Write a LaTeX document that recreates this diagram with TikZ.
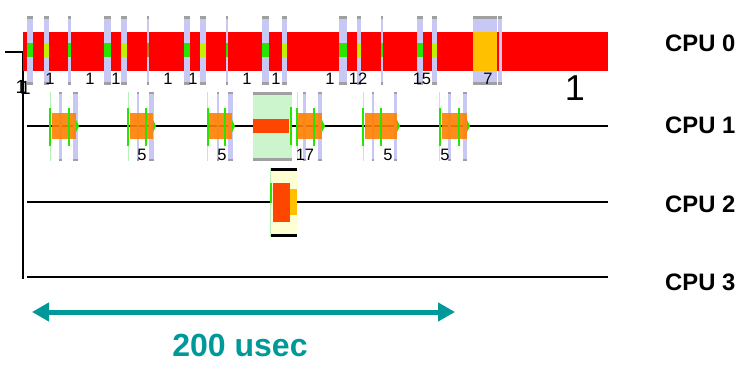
\documentclass[tikz,border=0pt]{standalone}
\usepackage{fontspec}
\setmainfont{Liberation Sans}
\usetikzlibrary{arrows.meta}
\definecolor{lav}{RGB}{200,200,245}
\definecolor{capgrey}{RGB}{160,160,160}
\definecolor{grn}{RGB}{40,228,0}
\definecolor{ygrn}{RGB}{195,240,0}
\definecolor{thingrn}{RGB}{185,240,185}
\definecolor{brn}{RGB}{190,120,40}
\definecolor{org}{RGB}{255,128,0}
\definecolor{gold}{RGB}{255,192,0}
\definecolor{redorg}{RGB}{255,70,0}
\definecolor{lgbox}{RGB}{205,245,205}
\definecolor{lybox}{RGB}{255,255,212}
\definecolor{teal}{RGB}{0,153,153}
\tikzset{
  cpulabel/.style={anchor=west,inner sep=0pt,font=\fontsize{23.8}{26}\selectfont\bfseries},
  num/.style={inner sep=0pt,font=\fontsize{16.5}{18}\selectfont},
  bignum/.style={inner sep=0pt,font=\fontsize{36}{40}\selectfont},
  cpuline/.style={line width=2.2pt,black},
  axisline/.style={line width=2.2pt,black},
  spanarrow/.style={line width=5pt,teal,{Triangle[length=17pt,width=18pt]}-{Triangle[length=17pt,width=18pt]}},
  spanlabel/.style={inner sep=0pt,text=teal,font=\fontsize{32}{35}\selectfont\bfseries}
}
% CPU 0 strip: x1 x2 centre colour
\newcommand\czstrip[3]{%
  \fill[lav] (#1,16) rectangle (#2,85);
  \fill[capgrey] (#1,16) rectangle (#2,19);
  \fill[capgrey] (#1,82) rectangle (#2,85);
  \fill[#3] (#1,43) rectangle (#2,57);}
% CPU 1 strip: x1 x2
\newcommand\costrip[2]{%
  \fill[lav] (#1,92) rectangle (#2,161);
  \fill[capgrey] (#1,92) rectangle (#2,94.5);
  \fill[capgrey] (#1,158.5) rectangle (#2,161);}
% CPU 1 block: thin, ox1, ox2, l1a, l1b, gx, l2a, l2b
\newcommand\coblock[8]{%
  \draw[thingrn,line width=0.8pt] (#1,92) -- (#1,161);
  \costrip{#4}{#5}
  \costrip{#7}{#8}
  \fill[org,fill opacity=0.9] (#2,113) rectangle (#3,139);
  \fill[grn] (#1-0.8,108) rectangle (#1+1.4,146);
  \fill[grn] (#6,108) rectangle (#6+2.4,146);
  \fill[grn] (#3,120) -- (#3+3,126) -- (#3,132) -- cycle;}
\begin{document}
\begin{tikzpicture}[x=1pt,y=-1pt]
\useasboundingbox (0,0) rectangle (756,369);
\fill[white] (0,0) rectangle (756,369);

% axis
\coordinate (tickL) at (5,52);
\coordinate (tickR) at (23,52);
\coordinate (axB) at (23,279);
\draw[axisline] (tickL) -- (tickR) -- (axB);

% CPU lines
\coordinate (c1a) at (27,126); \coordinate (c1b) at (608,126);
\coordinate (c2a) at (27,202); \coordinate (c2b) at (608,202);
\coordinate (c3a) at (27,277); \coordinate (c3b) at (608,277);
\draw[cpuline] (c1a) -- (c1b);
\draw[cpuline] (c2a) -- (c2b);
\draw[cpuline] (c3a) -- (c3b);

% CPU 0 bar
\fill[red] (22.5,32) rectangle (608,71);
\czstrip{27}{33}{grn}
\czstrip{44}{49}{ygrn}
\czstrip{68}{71}{grn}
\czstrip{104}{111}{grn}
\czstrip{121}{127}{ygrn}
\czstrip{147}{149}{brn}
\czstrip{184}{190}{grn}
\czstrip{200}{206}{ygrn}
\czstrip{226}{228}{grn}
\czstrip{262}{269}{grn}
\czstrip{282}{287}{ygrn}
\czstrip{339}{347}{grn}
\czstrip{357}{361}{ygrn}
\czstrip{381}{383}{grn}
\czstrip{417}{423}{grn}
\czstrip{432}{437}{ygrn}
\czstrip{473}{497}{gold}
\fill[gold] (473,32) rectangle (497,71);
\czstrip{498}{502}{lav}
\fill[red] (497,32) rectangle (499.2,71);

% CPU 0 labels
\node[num] (n1) at (50,79) {1};
\node[num] (n2) at (90,79) {1};
\node[num] (n3) at (116,79) {1};
\node[num] (n4) at (168,79) {1};
\node[num] (n5) at (193,79) {1};
\node[num] (n6) at (247,79) {1};
\node[num] (n7) at (276,79) {1};
\node[num] (n8) at (330,79) {1};
\node[num] (n9) at (358,79) {12};
\node[num] (n10) at (422,79) {15};
\node[num] (n11) at (488,79) {7};
\node[bignum] (nbig) at (575,88.5) {1};
\node[num,font=\fontsize{19}{21}\selectfont] (nl1) at (21,87) {1};
\node[num,font=\fontsize{19}{21}\selectfont] (nl2) at (25.5,88) {1};

% CPU 1 blocks
\coblock{50}{52}{76}{59}{62}{67.5}{73}{78}
\coblock{128}{130}{153}{137}{139}{145}{149}{154}
\coblock{207.5}{208}{232}{217}{219}{224}{228}{233}
% light green box
\fill[lgbox] (253,92) rectangle (292,161);
\fill[capgrey] (253,92) rectangle (292,95);
\fill[capgrey] (253,158) rectangle (292,161);
\fill[redorg] (253,119) rectangle (289,133);
\fill[grn] (289.8,107) rectangle (292.2,145);
\coblock{297}{297.5}{322}{303}{306}{313}{318}{322}
\coblock{363}{365}{397}{372}{374}{380}{394}{397}
\coblock{439.5}{442}{467}{448}{451}{458}{463}{467}
\node[num] (m1) at (142,155) {5};
\node[num] (m2) at (222,155) {5};
\node[num] (m3) at (305,155) {17};
\node[num] (m4) at (388,155) {5};
\node[num] (m5) at (445,155) {5};

% CPU 2 block
\fill[lybox] (270,168) rectangle (297,237);
\draw[thingrn,line width=0.8pt] (270.5,168) -- (270.5,237);
\fill[black] (271,168) rectangle (297,171);
\fill[black] (271,234) rectangle (297,237);
\fill[grn] (269.5,183) rectangle (272.2,203);
\fill[redorg] (273,183) rectangle (290,222);
\fill[gold] (290,189) rectangle (297,215);

% CPU labels
\node[cpulabel] (cpu0) at (665,43) {CPU 0};
\node[cpulabel] (cpu1) at (665,125) {CPU 1};
\node[cpulabel] (cpu2) at (665,204) {CPU 2};
\node[cpulabel] (cpu3) at (665,282) {CPU 3};

% span arrow
\coordinate (arrL) at (32,312);
\coordinate (arrR) at (455,312);
\draw[spanarrow] (arrL) -- (arrR);
\node[spanlabel] (span) at (240,345) {200 usec};
\end{tikzpicture}
\end{document}
